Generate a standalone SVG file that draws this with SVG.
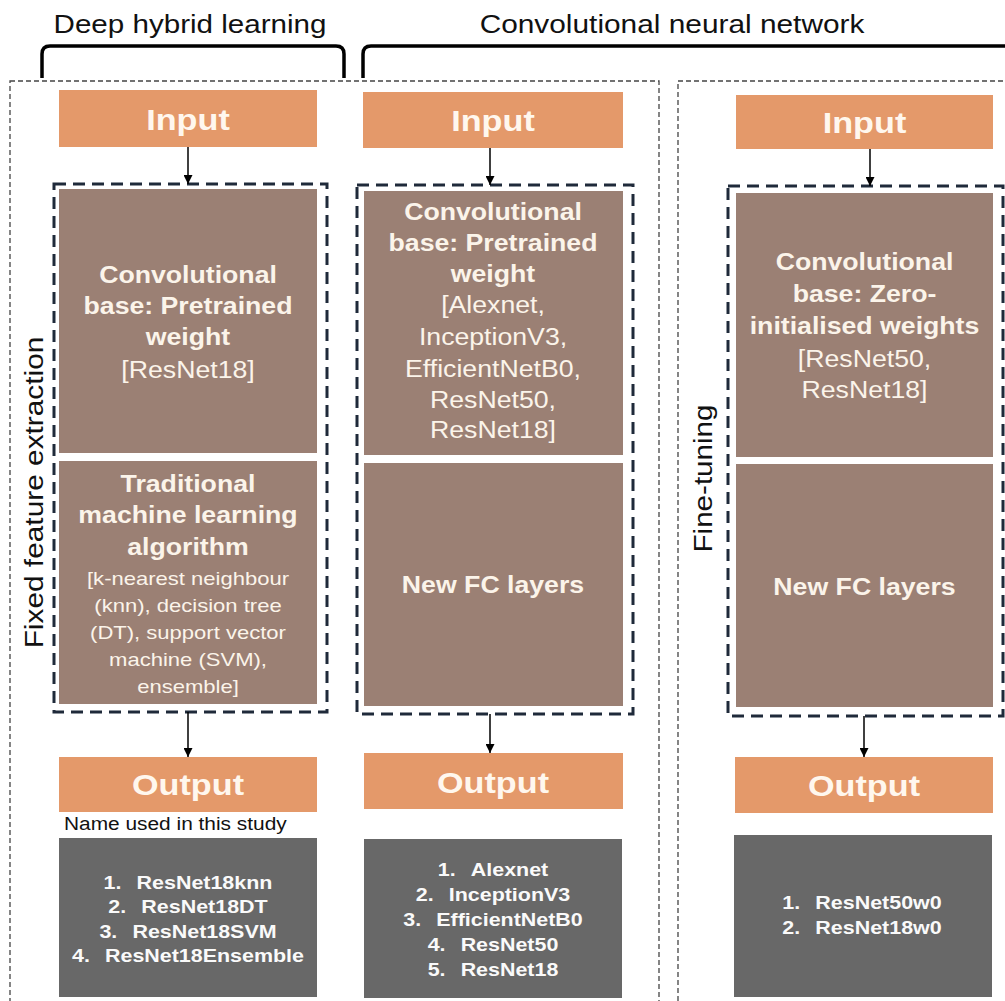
<svg xmlns="http://www.w3.org/2000/svg" width="1005" height="1001" viewBox="0 0 1005 1001">
  <defs>
    <style>
      text { font-family: "Liberation Sans", Arial, sans-serif; }
      .hdr { font-size: 25.5px; fill: #111; }
      .side { font-size: 25.5px; fill: #111; }
      .io { font-size: 29.5px; font-weight: bold; fill: #FFF7EE; }
      .h { font-size: 23px; font-weight: bold; fill: #FBF4EA; }
      .r { font-size: 23px; fill: #FBF4EA; }
      .s { font-size: 19px; fill: #FBF4EA; }
      .li { font-size: 18.5px; font-weight: bold; fill: #FAFAFA; }
      .note { font-size: 18px; fill: #111; }
      .orange { fill: #E4996A; }
      .brown { fill: #9B8074; }
      .grey { fill: #686868; }
      .outer { fill: none; stroke: #444; stroke-width: 1.3; stroke-dasharray: 5 3; }
      .inner { fill: none; stroke: #1F2A3A; stroke-width: 3; stroke-dasharray: 12 7; }
      .bracket { fill: none; stroke: #000; stroke-width: 3.5; }
      .link { fill: none; stroke: #000; stroke-width: 1.5; marker-end: url(#arrow); }
    </style>
    <marker id="arrow" viewBox="0 0 10 10" refX="10" refY="5" markerUnits="userSpaceOnUse" markerWidth="10" markerHeight="9" orient="auto">
      <path d="M0,0 L10,5 L0,10 z" fill="#000"/>
    </marker>
  </defs>

  <rect width="1005" height="1001" fill="#fff"/>

  <!-- category headers with brackets -->
  <g id="header-hybrid">
    <text class="hdr" text-anchor="middle" transform="translate(190,33) scale(1.16,1)">Deep hybrid learning</text>
    <path class="bracket" d="M42,78 V54 Q42,46 50,46 H336 Q344,46 344,54 V78"/>
  </g>
  <g id="header-cnn">
    <text class="hdr" text-anchor="middle" transform="translate(672,33) scale(1.17,1)">Convolutional neural network</text>
    <path class="bracket" d="M363,78 V54 Q363,46 371,46 H1010"/>
  </g>

  <!-- strategy frames -->
  <g id="frame-fixed">
    <rect class="outer" x="10" y="81" width="649" height="940"/>
    <text class="side" text-anchor="middle" transform="translate(43,492.5) rotate(-90) scale(1.17,1)">Fixed feature extraction</text>
  </g>
  <g id="frame-finetune">
    <rect class="outer" x="678" y="81" width="340" height="940"/>
    <text class="side" text-anchor="middle" transform="translate(712,478.5) rotate(-90) scale(1.16,1)">Fine-tuning</text>
  </g>

  <!-- column 1: deep hybrid learning -->
  <g id="c1-input">
    <rect class="orange" x="59" y="90" width="258" height="57"/>
    <text class="io" text-anchor="middle" transform="translate(188,130) scale(1.16,1)">Input</text>
  </g>
  <g id="c1-model">
    <rect class="inner" x="54" y="184" width="273" height="528"/>
    <rect class="brown" x="59" y="189" width="258" height="264"/>
    <rect class="brown" x="59" y="461" width="258" height="243"/>
    <g transform="translate(188,0) scale(1.16,1)" text-anchor="middle">
      <text class="h" x="0" y="283">Convolutional</text>
      <text class="h" x="0" y="314">base: Pretrained</text>
      <text class="h" x="0" y="345">weight</text>
      <text class="r" x="0" y="378">[ResNet18]</text>
      <text class="h" x="0" y="492">Traditional</text>
      <text class="h" x="0" y="523">machine learning</text>
      <text class="h" x="0" y="555">algorithm</text>
      <text class="s" x="0" y="585">[k-nearest neighbour</text>
      <text class="s" x="0" y="612">(knn), decision tree</text>
      <text class="s" x="0" y="639">(DT), support vector</text>
      <text class="s" x="0" y="666">machine (SVM),</text>
      <text class="s" x="0" y="693">ensemble]</text>
    </g>
  </g>
  <g id="c1-output">
    <rect class="orange" x="59" y="757" width="258" height="55"/>
    <text class="io" text-anchor="middle" transform="translate(188,795) scale(1.16,1)">Output</text>
  </g>
  <g id="c1-note">
    <text class="note" transform="translate(64,830) scale(1.16,1)">Name used in this study</text>
  </g>
  <g id="c1-names">
    <rect class="grey" x="59" y="838" width="258" height="159"/>
    <g transform="translate(188,0) scale(1.16,1)" text-anchor="middle">
      <text class="li" x="0" y="889">1.<tspan dx="13">ResNet18knn</tspan></text>
      <text class="li" x="0" y="913.5">2.<tspan dx="13">ResNet18DT</tspan></text>
      <text class="li" x="0" y="938">3.<tspan dx="13">ResNet18SVM</tspan></text>
      <text class="li" x="0" y="962">4.<tspan dx="13">ResNet18Ensemble</tspan></text>
    </g>
  </g>

  <!-- column 2: pretrained CNNs -->
  <g id="c2-input">
    <rect class="orange" x="363" y="92" width="260" height="56"/>
    <text class="io" text-anchor="middle" transform="translate(493,131) scale(1.16,1)">Input</text>
  </g>
  <g id="c2-model">
    <rect class="inner" x="357" y="185" width="276" height="529"/>
    <rect class="brown" x="364" y="191" width="259" height="264"/>
    <rect class="brown" x="364" y="463" width="259" height="243"/>
    <g transform="translate(493,0) scale(1.16,1)" text-anchor="middle">
      <text class="h" x="0" y="220">Convolutional</text>
      <text class="h" x="0" y="251">base: Pretrained</text>
      <text class="h" x="0" y="282">weight</text>
      <text class="r" x="0" y="313">[Alexnet,</text>
      <text class="r" x="0" y="345">InceptionV3,</text>
      <text class="r" x="0" y="377">EfficientNetB0,</text>
      <text class="r" x="0" y="408">ResNet50,</text>
      <text class="r" x="0" y="438">ResNet18]</text>
      <text class="h" x="0" y="593">New FC layers</text>
    </g>
  </g>
  <g id="c2-output">
    <rect class="orange" x="364" y="753" width="259" height="56"/>
    <text class="io" text-anchor="middle" transform="translate(493,793) scale(1.16,1)">Output</text>
  </g>
  <g id="c2-names">
    <rect class="grey" x="364" y="839" width="258" height="159"/>
    <g transform="translate(493,0) scale(1.16,1)" text-anchor="middle">
      <text class="li" x="0" y="876">1.<tspan dx="13">Alexnet</tspan></text>
      <text class="li" x="0" y="901">2.<tspan dx="13">InceptionV3</tspan></text>
      <text class="li" x="0" y="926">3.<tspan dx="13">EfficientNetB0</tspan></text>
      <text class="li" x="0" y="951">4.<tspan dx="13">ResNet50</tspan></text>
      <text class="li" x="0" y="976">5.<tspan dx="13">ResNet18</tspan></text>
    </g>
  </g>

  <!-- column 3: fine-tuning from zero-initialised weights -->
  <g id="c3-input">
    <rect class="orange" x="736" y="95" width="257" height="54"/>
    <text class="io" text-anchor="middle" transform="translate(864.5,133) scale(1.16,1)">Input</text>
  </g>
  <g id="c3-model">
    <rect class="inner" x="728" y="186" width="275" height="530"/>
    <rect class="brown" x="736" y="193" width="257" height="264"/>
    <rect class="brown" x="736" y="464" width="257" height="243"/>
    <g transform="translate(864.5,0) scale(1.16,1)" text-anchor="middle">
      <text class="h" x="0" y="270">Convolutional</text>
      <text class="h" x="0" y="302">base: Zero-</text>
      <text class="h" x="0" y="334">initialised weights</text>
      <text class="r" x="0" y="367">[ResNet50,</text>
      <text class="r" x="0" y="398">ResNet18]</text>
      <text class="h" x="0" y="595">New FC layers</text>
    </g>
  </g>
  <g id="c3-output">
    <rect class="orange" x="735" y="757" width="258" height="56"/>
    <text class="io" text-anchor="middle" transform="translate(864,796) scale(1.16,1)">Output</text>
  </g>
  <g id="c3-names">
    <rect class="grey" x="734" y="835" width="258" height="162"/>
    <g transform="translate(862,0) scale(1.16,1)" text-anchor="middle">
      <text class="li" x="0" y="909">1.<tspan dx="13">ResNet50w0</tspan></text>
      <text class="li" x="0" y="934">2.<tspan dx="13">ResNet18w0</tspan></text>
    </g>
  </g>

  <!-- connectors -->
  <g id="connectors">
    <line class="link" x1="188" y1="147" x2="188" y2="184"/>
    <line class="link" x1="188" y1="712" x2="188" y2="757"/>
    <line class="link" x1="490" y1="148" x2="490" y2="185"/>
    <line class="link" x1="490" y1="714" x2="490" y2="753"/>
    <line class="link" x1="870" y1="149" x2="870" y2="186"/>
    <line class="link" x1="864" y1="716" x2="864" y2="757"/>
  </g>
</svg>
